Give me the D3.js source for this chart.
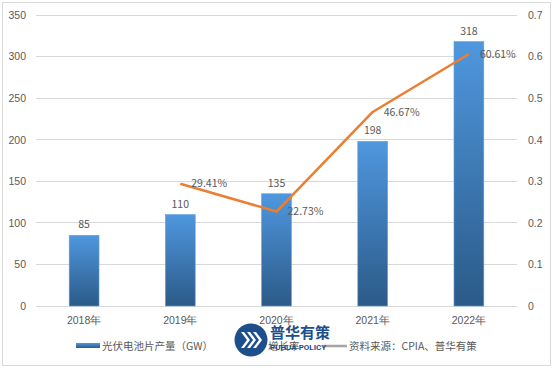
<!DOCTYPE html>
<html><head><meta charset="utf-8">
<script src="https://cdn.jsdelivr.net/npm/d3@7/dist/d3.min.js"></script>
<style>body{margin:0;background:#fff}svg{display:block;font-family:"Noto Sans CJK SC","Noto Sans",sans-serif}</style>
</head><body>
<script>
const categories = ["2018年","2019年","2020年","2021年","2022年"];
const production = [85,110,135,198,318];
const growth = [null,0.2941,0.2273,0.4667,0.6061];
const growthLabels = ["","29.41%","22.73%","46.67%","60.61%"];
const leftTicks = [0,50,100,150,200,250,300,350];
const rightTicks = [0,0.1,0.2,0.3,0.4,0.5,0.6,0.7];
const legendNames = ["光伏电池片产量（GW）","增长率","资料来源：CPIA、普华有策"];

const W=553,H=368;
const svg=d3.select("body").append("svg").attr("width",W).attr("height",H);
const txt="#595959", fs=10.5;

svg.append("rect").attr("x",2.5).attr("y",2.5).attr("width",548).attr("height",363)
  .attr("fill","#fff").attr("stroke","#d9d9d9");

const x=d3.scaleBand().domain(categories).range([36,517]).padding(0);
const yL=d3.scaleLinear().domain([0,350]).range([306,15]);
const yR=d3.scaleLinear().domain([0,0.7]).range([306,15]);

const defs=svg.append("defs");
const g=defs.append("linearGradient").attr("id","bg").attr("x1",0).attr("y1",0).attr("x2",0).attr("y2",1);
g.append("stop").attr("offset","0%").attr("stop-color","#4f97de");
g.append("stop").attr("offset","100%").attr("stop-color","#2b5a88");

// gridlines
svg.append("g").selectAll("line").data(leftTicks).join("line")
  .attr("x1",36).attr("x2",517).attr("y1",d=>yL(d)).attr("y2",d=>yL(d))
  .attr("stroke","#d9d9d9").attr("stroke-width",1).attr("shape-rendering","crispEdges");

// left axis
const la=svg.append("g").attr("transform","translate(36,0)")
  .call(d3.axisLeft(yL).tickValues(leftTicks).tickSize(0).tickPadding(10));
la.select(".domain").remove();
la.selectAll("text").attr("fill",txt).attr("font-size",fs).attr("font-family","inherit");

// right axis
const ra=svg.append("g").attr("transform","translate(517,0)")
  .call(d3.axisRight(yR).tickValues(rightTicks).tickSize(0).tickPadding(11).tickFormat(d=>d===0?"0":d3.format(".1f")(d)));
ra.select(".domain").remove();
ra.selectAll("text").attr("fill",txt).attr("font-size",fs).attr("font-family","inherit");

// x axis labels
const xa=svg.append("g").attr("transform","translate(0,306)")
  .call(d3.axisBottom(x).tickSize(0).tickPadding(11));
xa.select(".domain").remove();
xa.selectAll("text").attr("fill",txt).attr("font-size",fs).attr("font-family","inherit");

// bars
const bw=x.bandwidth()*0.31;
svg.append("g").selectAll("rect").data(production).join("rect")
  .attr("x",(d,i)=>x(categories[i])+x.bandwidth()/2-bw/2)
  .attr("y",d=>yL(d)).attr("width",bw).attr("height",d=>yL(0)-yL(d))
  .attr("fill","url(#bg)").attr("stroke","#5fa0e0").attr("stroke-width",0.6);

svg.append("g").selectAll("text").data(production).join("text")
  .attr("x",(d,i)=>x(categories[i])+x.bandwidth()/2).attr("y",d=>yL(d)-7)
  .attr("text-anchor","middle").attr("fill",txt).attr("font-size",fs).text(d=>d);

// line
const pts=growth.map((v,i)=>({v,i})).filter(d=>d.v!=null);
const line=d3.line().x(d=>x(categories[d.i])+x.bandwidth()/2).y(d=>yR(d.v));
svg.append("path").datum(pts).attr("d",line).attr("fill","none")
  .attr("stroke","#ed7d31").attr("stroke-width",2.5).attr("stroke-linejoin","round");

svg.append("g").selectAll("text").data(pts).join("text")
  .attr("x",d=>x(categories[d.i])+x.bandwidth()/2+11).attr("y",d=>yR(d.v))
  .attr("dy","0.35em").attr("fill",txt).attr("font-size",fs).text(d=>growthLabels[d.i]);

// legend
const ly=346;
const leg=svg.append("g");
leg.append("rect").attr("x",76).attr("y",ly-3).attr("width",24).attr("height",5).attr("fill","url(#bg)");
leg.append("text").attr("x",102).attr("y",ly).attr("dy","0.35em").attr("fill",txt).attr("font-size",fs).text(legendNames[0]);
leg.append("line").attr("x1",243).attr("x2",266).attr("y1",ly).attr("y2",ly).attr("stroke","#ed7d31").attr("stroke-width",2.5);
leg.append("text").attr("x",268).attr("y",ly).attr("dy","0.35em").attr("fill",txt).attr("font-size",fs).text(legendNames[1]);
leg.append("line").attr("x1",323).attr("x2",347).attr("y1",ly).attr("y2",ly).attr("stroke","#a5a5a5").attr("stroke-width",2.5);
leg.append("text").attr("x",349).attr("y",ly).attr("dy","0.35em").attr("fill",txt).attr("font-size",fs).text(legendNames[2]);

// watermark logo
const wm=svg.append("g");
const cx=251,cy=340,r=16.5;
wm.append("circle").attr("cx",cx).attr("cy",cy).attr("r",r).attr("fill","#1d4f8c");
[-8,-2,4].forEach(dx=>{
  wm.append("path").attr("d",`M${cx+dx-2},${cy-8} L${cx+dx+4},${cy} L${cx+dx-2},${cy+8} L${cx+dx+1},${cy+8} L${cx+dx+7},${cy} L${cx+dx+1},${cy-8} Z`)
    .attr("fill","#fff");
});
wm.append("text").attr("x",270).attr("y",338).attr("fill","#1d4f8c").attr("font-size",15).attr("font-weight","bold").text("普华有策");
wm.append("text").attr("x",270).attr("y",350).attr("fill","#1d4f8c").attr("font-size",8).attr("font-weight","bold").attr("font-family","Roboto, sans-serif").text("PUHUA POLICY");
</script>
</body></html>
